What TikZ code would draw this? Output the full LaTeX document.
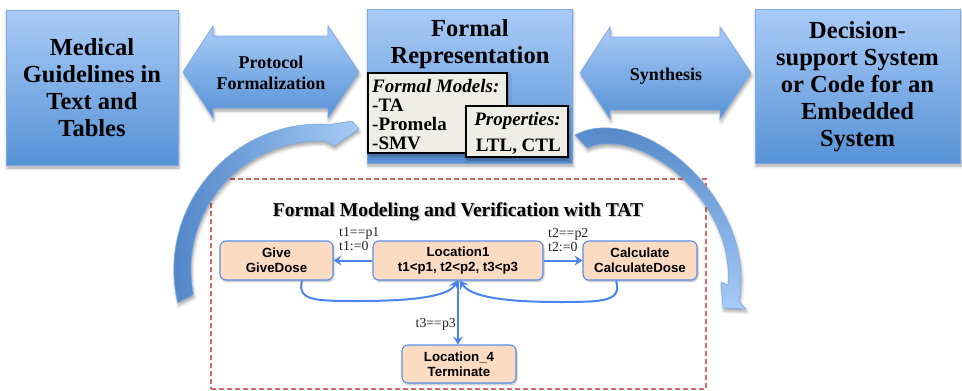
\documentclass[tikz,border=0pt]{standalone}
\usepackage{fontspec}
\setmainfont{Liberation Serif}
\newfontfamily\arialf{Liberation Sans}
\usetikzlibrary{shadows.blur,arrows.meta,calc}
\definecolor{boxtop}{HTML}{A9CBF7}
\definecolor{boxbot}{HTML}{5692D6}
\definecolor{boxline}{HTML}{7FAADF}
\definecolor{peach}{HTML}{FBDCC2}
\definecolor{nodeline}{HTML}{5B8DEF}
\definecolor{conn}{HTML}{4A84F0}
\definecolor{dashred}{HTML}{D46A63}
\definecolor{beige}{HTML}{EFEEE6}
\definecolor{arrdark}{HTML}{4A80C4}
\definecolor{arrlight}{HTML}{A6CBF6}
\definecolor{guardc}{HTML}{222222}
\tikzset{
  softshadow/.style={blur shadow={shadow xshift=1pt,shadow yshift=-3pt,shadow blur radius=3pt,shadow opacity=35}},
  bigbox/.style={draw=boxline, line width=0.8pt, top color=boxtop, bottom color=boxbot, softshadow, inner sep=0pt},
  bigtext/.style={font=\bfseries\fontsize{24.5}{27}\selectfont, align=center, inner sep=0pt},
  dblarrow/.style={draw=boxline, line width=0.8pt, top color=boxtop, bottom color=boxbot, softshadow},
  arrtext/.style={font=\bfseries\fontsize{18}{21}\selectfont, align=center, inner sep=0pt},
  fmbox/.style={draw=black, line width=1.3pt, fill=beige, inner sep=0pt, softshadow},
  fmtext/.style={font=\bfseries\fontsize{19}{19}\selectfont, inner sep=0pt},
  lnode/.style={draw=nodeline, line width=1.1pt, fill=peach, rounded corners=6pt, inner sep=0pt,
    minimum height=39pt, align=center, font=\arialf\bfseries\fontsize{13.3}{15}\selectfont,
    blur shadow={shadow xshift=1pt,shadow yshift=-1.5pt,shadow blur radius=1.5pt,shadow opacity=30}},
  guard/.style={font=\fontsize{13.8}{14}\selectfont, text=guardc, inner sep=0pt},
  flow/.style={draw=conn, line width=2pt, -{Stealth[length=8pt,width=10pt,inset=3pt]}},
  curvedarr/.style={draw=boxline, line width=0.6pt, softshadow},
  panelbox/.style={draw=dashred, line width=1.3pt, dash pattern=on 5pt off 3pt, inner sep=0pt},
  titletext/.style={font=\bfseries\fontsize{19.6}{20}\selectfont, anchor=base, inner sep=0pt},
}
\begin{document}
\begin{tikzpicture}[x=1pt,y=-1pt]
\useasboundingbox (0,0) rectangle (962,391);

% big boxes
\node[bigbox, minimum width=172pt, minimum height=155pt] (med) at (92,87.5) {};
\node[bigtext] (medt) at (92,88) {Medical\\Guidelines in\\Text and\\Tables};

\node[bigbox, minimum width=205pt, minimum height=154pt] (rep) at (469.5,86) {};
\node[bigtext] (rept) at (470,44) {Formal\\Representation};

\node[bigbox, minimum width=205pt, minimum height=154pt] (dss) at (857.5,86) {};
\node[bigtext] (dsst) at (857.5,86.5) {Decision-\\support System\\or Code for an\\Embedded\\System};

% double arrows
\path[dblarrow] (183,72) -- (213,26) -- (213,36) -- (328,36) -- (328,26) -- (359,72)
  -- (328,118) -- (328,108) -- (213,108) -- (213,118) -- cycle;
\node[arrtext] (pft) at (271,72.5) {Protocol\\Formalization};
\path[dblarrow] (580,73) -- (610,27) -- (610,37) -- (720,37) -- (720,27) -- (751,73)
  -- (720,119) -- (720,110) -- (610,110) -- (610,119) -- cycle;
\node[arrtext] (syn) at (666,76) {Synthesis};

% formal models / properties
\node[fmbox, minimum width=139pt, minimum height=80pt] (fm) at (437.5,113) {};
\node[fmtext, anchor=base west] (fm1) at (372,92) {\textit{Formal Models:}};
\node[fmtext, anchor=base west] (fm2) at (372,111) {-TA};
\node[fmtext, anchor=base west] (fm3) at (372,130) {-Promela};
\node[fmtext, anchor=base west] (fm4) at (372,149) {-SMV};
\node[fmbox, minimum width=102pt, minimum height=51pt] (pr) at (517,131.5) {};
\node[fmtext, anchor=base east] (pr1) at (561,125) {\textit{Properties:}};
\node[fmtext, anchor=base east] (pr2) at (561,151) {LTL, CTL};

% dashed panel
\node[panelbox, minimum width=495pt, minimum height=210pt] (panel) at (458.5,284) {};
\node[titletext, text=black!45, opacity=0.5] (titsh) at (459.5,217.5) {Formal Modeling and Verification with TAT};
\node[titletext] (title) at (458,216) {Formal Modeling and Verification with TAT};

% lower nodes
\node[lnode, minimum width=113pt] (give) at (276.5,260.5) {Give\\GiveDose};
\node[lnode, minimum width=170pt] (loc1) at (458,260.5) {Location1\\t1<p1, t2<p2, t3<p3};
\node[lnode, minimum width=114pt] (calc) at (640,260.5) {Calculate\\CalculateDose};
\node[lnode, minimum width=114pt, minimum height=38pt] (loc4) at (459,364) {Location\_4\\Terminate};

% connectors
\draw[flow] (loc1.west) -- (give.east);
\draw[flow] (loc1.east) -- (calc.west);
\draw[flow] (loc1.south) -- (loc1.south |- loc4.north);
\draw[flow] ([xshift=25.5pt]give.south) .. controls (297,301) and (315,301) .. (360,301)
  .. controls (420,301) and (450,295) .. ([xshift=-1pt]loc1.south);
\draw[flow] ([xshift=-24pt]calc.south) .. controls (622,301) and (605,302) .. (560,302)
  .. controls (500,302) and (470,296) .. ([xshift=2pt]loc1.south);

% guard labels
\node[guard, anchor=base west] (g1a) at (339,236) {t1==p1};
\node[guard, anchor=base west] (g1b) at (339,250) {t1:=0};
\node[guard, anchor=base west] (g2a) at (548,237) {t2==p2};
\node[guard, anchor=base west] (g2b) at (548,251) {t2:=0};
\node[guard, anchor=base east] (g3) at (456,327) {t3==p3};

% curved arrows
\path[curvedarr, left color=arrdark, right color=arrlight]
  (177.7,302.8) .. controls (155.6,207.2) and (232.3,117.6) .. (330.2,124.4)
  -- (352,121) -- (359,129) -- (334,146) -- (324.1,141.1)
  .. controls (241.3,138.5) and (177.6,213.3) .. (193.4,294.6) -- cycle;
\path[curvedarr, top color=arrdark, bottom color=arrlight]
  (575,135) .. controls (640,100) and (758,200) .. (739,301)
  -- (746,309) -- (723,308) -- (721,282) -- (728,285)
  .. controls (735,200) and (640,125) .. (587,148) -- cycle;
\end{tikzpicture}
\end{document}
